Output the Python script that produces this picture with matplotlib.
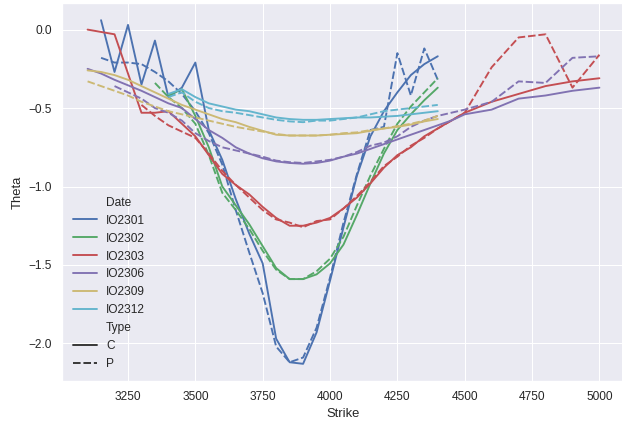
import matplotlib
matplotlib.use("Agg")
import matplotlib.pyplot as plt
import pandas as pd
import seaborn as sns

# ---------------- data ----------------
dates = ["IO2301", "IO2302", "IO2303", "IO2306", "IO2309", "IO2312"]
types = ["C", "P"]
palette = ["#4C72B0", "#55A868", "#C44E52", "#8172B2", "#CCB974", "#64B5CD"]

strikes_3150_4400 = [3150, 3200, 3250, 3300, 3350, 3400, 3450, 3500, 3550, 3600,
                     3650, 3700, 3750, 3800, 3850, 3900, 3950, 4000, 4050, 4100,
                     4150, 4200, 4250, 4300, 4350, 4400]
strikes_3400_4400 = [3400, 3450, 3500, 3550, 3600, 3650, 3700, 3750, 3800, 3850,
                     3900, 3950, 4000, 4050, 4100, 4150, 4200, 4250, 4300, 4350, 4400]
strikes_3350_4400 = [3350] + strikes_3400_4400
strikes_3100_4400 = [3100] + strikes_3150_4400
strikes_3100_5000 = strikes_3100_4400 + [4450, 4500, 4600, 4700, 4800, 4900, 5000]
strikes_3300_5000 = [s for s in strikes_3100_5000 if s >= 3300]
strikes_3200_5000 = [s for s in strikes_3100_5000 if s >= 3200]

theta_2301_C = [0.06, -0.27, 0.03, -0.35, -0.07, -0.43, -0.37, -0.21, -0.64, -0.83,
                -1.08, -1.30, -1.49, -1.97, -2.12, -2.13, -1.93, -1.60, -1.26, -0.93,
                -0.68, -0.52, -0.40, -0.29, -0.22, -0.17]
theta_2301_P = [-0.18, -0.21, -0.21, -0.22, -0.27, -0.33, -0.41, -0.52, -0.66, -0.86,
                -1.15, -1.42, -1.68, -2.02, -2.12, -2.09, -1.90, -1.58, -1.23, -0.92,
                -0.64, -0.62, -0.15, -0.42, -0.12, -0.32]
theta_2302_C = [-0.42, -0.38, -0.55, -0.75, -1.00, -1.12, -1.24, -1.38, -1.52, -1.59,
                -1.59, -1.56, -1.49, -1.37, -1.18, -0.98, -0.79, -0.64, -0.54, -0.45,
                -0.37]
theta_2302_P = [-0.34, -0.43, -0.50, -0.60, -0.80, -1.04, -1.15, -1.27, -1.41, -1.53,
                -1.59, -1.59, -1.54, -1.46, -1.32, -1.12, -0.93, -0.76, -0.60, -0.49,
                -0.40, -0.31]
theta_2303_C = [0.00, -0.015, -0.03, -0.28, -0.53, -0.53, -0.52, -0.60, -0.68, -0.80,
                -0.92, -0.99, -1.05, -1.13, -1.20, -1.25, -1.25, -1.23, -1.20, -1.14,
                -1.07, -0.98, -0.88, -0.80, -0.75, -0.68, -0.63, -0.58, -0.53,
                -0.46, -0.41, -0.36, -0.33, -0.31]
theta_2303_P = [-0.48, -0.55, -0.61, -0.65, -0.69, -0.79, -0.90, -0.99, -1.07, -1.15,
                -1.21, -1.23, -1.26, -1.22, -1.21, -1.14, -1.06, -0.97, -0.87, -0.81,
                -0.74, -0.69, -0.63, -0.58, -0.53,
                -0.24, -0.05, -0.03, -0.37, -0.16]
theta_2306_C = [-0.25, -0.28, -0.32, -0.355, -0.39, -0.43, -0.47, -0.50, -0.57, -0.64,
                -0.69, -0.75, -0.79, -0.82, -0.84, -0.85, -0.855, -0.85, -0.835, -0.81,
                -0.79, -0.76, -0.73, -0.70, -0.67, -0.64, -0.61, -0.58, -0.54,
                -0.51, -0.44, -0.42, -0.39, -0.37]
theta_2306_P = [-0.36, -0.40, -0.44, -0.50, -0.53, -0.58, -0.66, -0.71, -0.75, -0.77,
                -0.79, -0.81, -0.835, -0.845, -0.85, -0.84, -0.83, -0.81, -0.78, -0.74,
                -0.72, -0.68, -0.62, -0.58, -0.55, -0.53, -0.51,
                -0.46, -0.33, -0.34, -0.18, -0.17]
theta_2309_C = [-0.26, -0.27, -0.29, -0.32, -0.36, -0.40, -0.44, -0.48, -0.51, -0.54,
                -0.57, -0.59, -0.62, -0.645, -0.67, -0.675, -0.675, -0.675, -0.67, -0.665,
                -0.66, -0.645, -0.63, -0.62, -0.605, -0.585, -0.57]
theta_2309_P = [-0.33, -0.36, -0.39, -0.42, -0.46, -0.49, -0.52, -0.54, -0.56, -0.58,
                -0.60, -0.62, -0.635, -0.65, -0.665, -0.675, -0.675, -0.675, -0.67, -0.66,
                -0.655, -0.64, -0.63, -0.615, -0.60, -0.58, -0.55]
theta_2312_C = [-0.41, -0.38, -0.43, -0.47, -0.49, -0.51, -0.52, -0.54, -0.56, -0.57,
                -0.575, -0.575, -0.57, -0.565, -0.56, -0.56, -0.555, -0.55, -0.54, -0.53,
                -0.52]
theta_2312_P = [-0.43, -0.40, -0.46, -0.50, -0.52, -0.53, -0.545, -0.56, -0.575, -0.585,
                -0.59, -0.58, -0.58, -0.57, -0.56, -0.54, -0.52, -0.51, -0.50, -0.49,
                -0.48]

series = [
    ("IO2301", "C", strikes_3150_4400, theta_2301_C),
    ("IO2301", "P", strikes_3150_4400, theta_2301_P),
    ("IO2302", "C", strikes_3400_4400, theta_2302_C),
    ("IO2302", "P", strikes_3350_4400, theta_2302_P),
    ("IO2303", "C", strikes_3100_5000, theta_2303_C),
    ("IO2303", "P", strikes_3300_5000, theta_2303_P),
    ("IO2306", "C", strikes_3100_5000, theta_2306_C),
    ("IO2306", "P", strikes_3200_5000, theta_2306_P),
    ("IO2309", "C", strikes_3100_4400, theta_2309_C),
    ("IO2309", "P", strikes_3100_4400, theta_2309_P),
    ("IO2312", "C", strikes_3400_4400, theta_2312_C),
    ("IO2312", "P", strikes_3400_4400, theta_2312_P),
]

rows = []
for d, t, ks, vs in series:
    assert len(ks) == len(vs), (d, t, len(ks), len(vs))
    for k, v in zip(ks, vs):
        rows.append({"Date": d, "Type": t, "Strike": k, "Theta": v})
df = pd.DataFrame(rows)

# ---------------- plot ----------------
sns.set_theme(style="darkgrid", context="notebook",
              rc={"lines.linewidth": 1.75, "legend.frameon": False})
plt.rcParams["font.family"] = ["Liberation Sans", "DejaVu Sans"]
plt.rcParams["legend.loc"] = "lower left"

DPI = 78
fig = plt.figure(figsize=(622 / DPI, 421 / DPI), dpi=DPI)
ax = fig.add_axes([62 / 622, 40 / 421, 563 / 622, 378 / 421])

sns.lineplot(data=df, x="Strike", y="Theta", hue="Date", style="Type",
             hue_order=dates, style_order=types, palette=palette, ax=ax)

fig.savefig("out.png", dpi=DPI)
